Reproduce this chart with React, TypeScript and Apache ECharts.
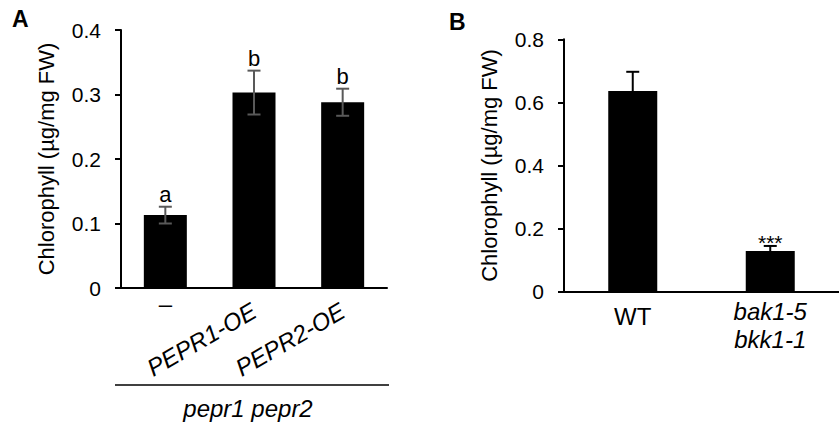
import React, { useEffect, useRef } from 'react';
import * as echarts from 'echarts';

const catsA = ['–', 'PEPR1-OE', 'PEPR2-OE'];
const meansA = [0.113, 0.303, 0.288];
const errA = [0.013, 0.034, 0.021];
const lettersA = ['a', 'b', 'b'];
const groupLabelA = 'pepr1 pepr2';

const catsB = ['WT', 'bak1-5\nbkk1-1'];
const meansB = [0.636, 0.129];
const errB = [0.061, 0.016];
const marksB = ['', '***'];

const yTitle = 'Chlorophyll (µg/mg FW)';
const FONT = '"Liberation Sans", Arial, sans-serif';

export default function App() {
  const ref = useRef<HTMLDivElement>(null);
  useEffect(() => {
    if (!ref.current) return;
    const chart = echarts.init(ref.current, undefined, { renderer: 'svg' });
    const axisLine = { show: true, lineStyle: { color: '#000', width: 2 } };
    const yCommon = {
      type: 'value',
      nameLocation: 'middle',
      nameRotate: 90,
      nameGap: 64,
      nameTextStyle: { fontSize: 22, color: '#000', fontFamily: FONT },
      axisLine,
      axisTick: { show: true, length: 6, lineStyle: { color: '#000', width: 2 } },
      axisLabel: { fontSize: 21, color: '#000', fontFamily: FONT, margin: 20 },
      splitLine: { show: false },
    };
    const option: any = {
      animation: false,
      backgroundColor: '#fff',
      grid: [
        { left: 121, top: 30, width: 266, height: 258 },
        { left: 564, top: 39.3, width: 286, height: 252.4 },
      ],
      xAxis: [
        {
          type: 'category', gridIndex: 0, data: catsA,
          axisLine, axisTick: { show: false },
          axisLabel: {
            rotate: 30, margin: 21, fontSize: 24, fontStyle: 'italic', color: '#000', fontFamily: FONT,
            formatter: (v: string) => (v === catsA[0] ? '' : v),
          },
        },
        {
          type: 'category', gridIndex: 0, data: catsA, position: 'bottom',
          axisLine: { show: false }, axisTick: { show: false },
          axisLabel: {
            margin: 3, fontSize: 24, color: '#000', fontFamily: FONT,
            formatter: (v: string) => (v === catsA[0] ? v : ''),
          },
        },
        {
          type: 'category', gridIndex: 1, data: catsB,
          axisLine, axisTick: { show: false },
          axisLabel: {
            margin: 6, color: '#000', fontFamily: FONT, fontSize: 24, verticalAlign: 'top',
            formatter: (v: string, i: number) =>
              i === 0 ? `{n|${v}}` : v.split('\n').map((s) => `{i|${s}}`).join('\n'),
            rich: {
              n: { fontSize: 24, fontFamily: FONT, color: '#000', lineHeight: 28, padding: [9, 0, 0, 0] },
              i: { fontSize: 24, fontFamily: FONT, color: '#000', fontStyle: 'italic', lineHeight: 28 },
            },
          },
        },
      ],
      yAxis: [
        { ...yCommon, gridIndex: 0, name: yTitle, min: 0, max: 0.4, interval: 0.1 },
        { ...yCommon, gridIndex: 1, name: yTitle, min: 0, max: 0.8, interval: 0.2 },
      ],
      series: [
        {
          type: 'bar', xAxisIndex: 0, yAxisIndex: 0, data: meansA, barWidth: 43,
          itemStyle: { color: '#000' },
        },
        {
          type: 'custom', xAxisIndex: 0, yAxisIndex: 0, z: 5,
          data: meansA.map((m, i) => [i, m, errA[i]]),
          renderItem: (params: any, api: any) => {
            const i = api.value(0), m = api.value(1), e = api.value(2);
            const top = api.coord([i, m + e]);
            const bot = api.coord([i, m - e]);
            const h = 6.5;
            const st = { stroke: '#595959', lineWidth: 2 };
            return {
              type: 'group',
              children: [
                { type: 'line', shape: { x1: top[0], y1: top[1], x2: bot[0], y2: bot[1] }, style: st },
                { type: 'line', shape: { x1: top[0] - h, y1: top[1], x2: top[0] + h, y2: top[1] }, style: st },
                { type: 'line', shape: { x1: bot[0] - h, y1: bot[1], x2: bot[0] + h, y2: bot[1] }, style: st },
                {
                  type: 'text', x: top[0], y: top[1] - 1,
                  style: {
                    text: lettersA[params.dataIndex], fill: '#000', fontSize: 22, fontFamily: FONT,
                    align: 'center', verticalAlign: 'bottom',
                  },
                },
              ],
            };
          },
        },
        {
          type: 'bar', xAxisIndex: 2, yAxisIndex: 1, data: meansB, barWidth: 49,
          itemStyle: { color: '#000' },
        },
        {
          type: 'custom', xAxisIndex: 2, yAxisIndex: 1, z: 5,
          data: meansB.map((m, i) => [i, m, errB[i]]),
          renderItem: (params: any, api: any) => {
            const i = api.value(0), m = api.value(1), e = api.value(2);
            const top = api.coord([i, m + e]);
            const base = api.coord([i, m]);
            const h = 6.5;
            const st = { stroke: '#000', lineWidth: 2 };
            return {
              type: 'group',
              children: [
                { type: 'line', shape: { x1: top[0], y1: top[1], x2: base[0], y2: base[1] }, style: st },
                { type: 'line', shape: { x1: top[0] - h, y1: top[1], x2: top[0] + h, y2: top[1] }, style: st },
                {
                  type: 'text', x: top[0], y: top[1] + 7,
                  style: {
                    text: marksB[params.dataIndex], fill: '#000', fontSize: 21, fontFamily: FONT,
                    align: 'center', verticalAlign: 'bottom',
                  },
                },
              ],
            };
          },
        },
      ],
      graphic: [
        {
          type: 'text', left: 12, top: 7,
          style: { text: 'A', fontSize: 23, fontWeight: 'bold', fontFamily: FONT, fill: '#000' },
        },
        {
          type: 'text', left: 449, top: 10,
          style: { text: 'B', fontSize: 23, fontWeight: 'bold', fontFamily: FONT, fill: '#000' },
        },
        {
          type: 'line', shape: { x1: 115, y1: 385, x2: 389, y2: 385 },
          style: { stroke: '#000', lineWidth: 1.5 },
        },
        {
          type: 'text', x: 248, y: 408,
          style: {
            text: groupLabelA, fontSize: 24, fontStyle: 'italic', fontFamily: FONT, fill: '#000',
            align: 'center', verticalAlign: 'middle',
          },
        },
      ],
    };
    chart.setOption(option);
    return () => chart.dispose();
  }, []);
  return (
    <div
      ref={ref}
      style={{ position: 'fixed', left: 0, top: 0, width: 839, height: 424 }}
    />
  );
}
